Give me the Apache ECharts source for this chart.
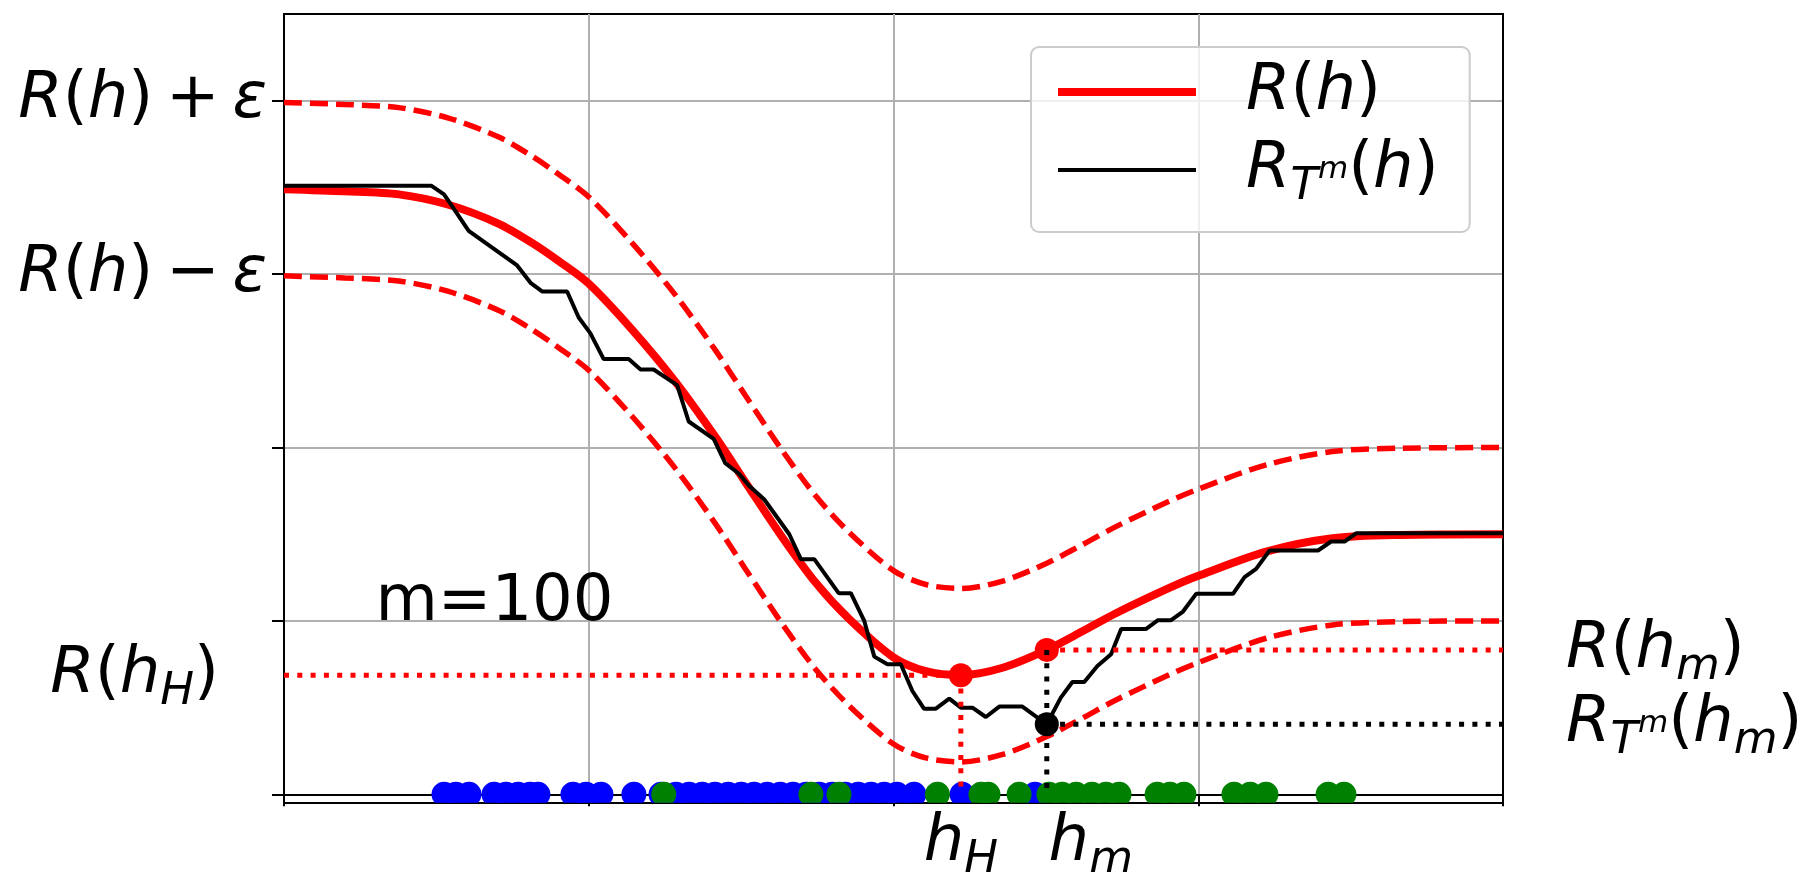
<!DOCTYPE html>
<html><head><meta charset="utf-8">
<script src="https://cdn.jsdelivr.net/npm/echarts@6/dist/echarts.min.js"></script>
<style>html,body{margin:0;padding:0;background:#fff}#c{width:1816px;height:872px}</style>
</head><body><div id="c"></div>
<script>
// ---------------- data ----------------
const xTickValues = [0, 1, 2, 3, 4];
const yTickValues = [0, 1, 2, 3, 4];
const yTickLabelValues = [3, 4];
const EPS = 0.5;
// true risk R(h)
const hGrid = [0, 0.2, 0.377, 0.54, 0.705, 0.814, 0.90, 1.0, 1.142, 1.284, 1.416, 1.514, 1.636, 1.745, 1.855, 2.0, 2.106, 2.221, 2.358, 2.503, 2.62, 2.73, 2.905, 3.0, 3.223, 3.44, 3.66, 4.0];
const riskTrue = [3.49, 3.478, 3.46, 3.40, 3.29, 3.18, 3.077, 2.945, 2.68, 2.38, 2.06, 1.80, 1.48, 1.22, 1.01, 0.79, 0.71, 0.687, 0.73, 0.833, 0.94, 1.044, 1.19, 1.26, 1.40, 1.477, 1.496, 1.5];
// empirical risk R_{T^m}(h)
const hEmp = [0, 0.483, 0.525, 0.552, 0.606, 0.765, 0.809, 0.847, 0.929, 0.967, 1.005, 1.049, 1.131, 1.17, 1.213, 1.29, 1.328, 1.41, 1.448, 1.492, 1.526, 1.576, 1.658, 1.696, 1.74, 1.82, 1.86, 1.904, 1.937, 1.98, 2.024, 2.062, 2.10, 2.139, 2.183, 2.221, 2.259, 2.303, 2.347, 2.423, 2.503, 2.549, 2.587, 2.626, 2.669, 2.714, 2.747, 2.829, 2.868, 2.911, 2.95, 2.993, 3.114, 3.152, 3.19, 3.234, 3.393, 3.436, 3.48, 3.519, 4.0];
const riskEmp = [3.51, 3.51, 3.46, 3.39, 3.25, 3.05, 2.95, 2.90, 2.90, 2.75, 2.66, 2.51, 2.51, 2.45, 2.45, 2.36, 2.15, 2.05, 1.91, 1.85, 1.78, 1.70, 1.50, 1.356, 1.356, 1.16, 1.16, 1.0, 0.794, 0.75, 0.75, 0.596, 0.494, 0.494, 0.552, 0.50, 0.50, 0.446, 0.506, 0.506, 0.404, 0.558, 0.648, 0.648, 0.74, 0.808, 0.954, 0.954, 1.004, 1.004, 1.054, 1.156, 1.156, 1.252, 1.30, 1.406, 1.406, 1.458, 1.458, 1.506, 1.506];
// sample points along the bottom
const blueH = [0.525, 0.564, 0.607, 0.689, 0.728, 0.768, 0.807, 0.833, 0.948, 0.991, 1.040, 1.148, 1.237, 1.286, 1.329, 1.372, 1.414, 1.457, 1.500, 1.542, 1.585, 1.628, 1.670, 1.713, 1.756, 1.798, 1.841, 1.884, 1.926, 1.969, 2.011, 2.067, 2.225, 2.464];
const greenH = [1.246, 1.729, 1.821, 2.144, 2.287, 2.310, 2.412, 2.510, 2.553, 2.599, 2.651, 2.697, 2.740, 2.865, 2.907, 2.953, 3.117, 3.170, 3.222, 3.426, 3.478];
const DOT_LEVEL = 0;
// key points
const H_H = 2.221, R_AT_HH = 0.687;
const H_M = 2.503, R_AT_HM = 0.833, RT_AT_HM = 0.404;
const SAMPLE_TEXT = 'm=100';
const SAMPLE_TEXT_AT = [0.3, 1.1];

// ---------------- styling helpers ----------------
const F = 'DejaVu Sans';
const rich = {
  i: {fontFamily: F, fontStyle: 'italic', fontSize: 64, lineHeight: 80, color: '#000'},
  n: {fontFamily: F, fontSize: 64, lineHeight: 80, color: '#000'},
  s: {fontFamily: F, fontStyle: 'italic', fontSize: 45, lineHeight: 45, verticalAlign: 'bottom', color: '#000'},
  p: {fontFamily: F, fontStyle: 'italic', fontSize: 31, lineHeight: 31, verticalAlign: 'middle', color: '#000'},
  sp: {width: 88, fontSize: 10}
};
const near = (a, b) => Math.abs(a - b) < 1e-6;
const YMIN = -0.05, YMAX = 4.5;
const dotted = (color) => ({color: color, width: 5, type: [5, 8.3], cap: 'butt'});
const dashed = {color: '#ff0000', width: 5.5, type: [18, 8]};
// dot glyph: a circle (r = 12.5) whose lower part is cut by the bottom spine
const CUT_DOT = 'path://M-9.165,8.5 A12.5,12.5 0 1 1 9.165,8.5 Z';
const dotStyle = {symbol: CUT_DOT, symbolSize: [25, 21], symbolOffset: [0, -2], symbolKeepAspect: false};

const chart = echarts.init(document.getElementById('c'), null, {renderer: 'canvas'});
const option = {
  animation: false,
  backgroundColor: '#fff',
  grid: {left: 284, right: 313, top: 14, bottom: 69, outerBoundsMode: 'none', containLabel: false,
    show: true, borderColor: '#000', borderWidth: 2, backgroundColor: 'transparent'},
  legend: {
    data: [
      {name: 'R(h)', lineStyle: {width: 8}, itemStyle: {opacity: 0}},
      {name: 'RT(h)', lineStyle: {width: 4}, itemStyle: {opacity: 0}}
    ],
    selectedMode: false,
    orient: 'vertical', left: 1031, top: 47,
    padding: [13, 31, 22, 23],
    itemWidth: 138, itemHeight: 2, itemGap: 14,
    backgroundColor: 'rgba(255,255,255,0.8)',
    borderColor: '#cccccc', borderWidth: 2, borderRadius: 8,
    formatter: function (name) {
      return name === 'R(h)' ? '{i|R}{n|(}{i|h}{n|)}' : '{i|R}{s|T}{p|m}{n|(}{i|h}{n|)}';
    },
    textStyle: {rich: rich, padding: [0, 0, 0, 45]}
  },
  xAxis: [{
    type: 'value', min: xTickValues[0], max: xTickValues[xTickValues.length - 1], interval: 1,
    axisLine: {show: true, lineStyle: {color: '#000', width: 2}},
    axisTick: {show: true, length: 12, lineStyle: {color: '#000', width: 2}},
    axisLabel: {
      customValues: [H_H, H_M], margin: 0,
      formatter: function (v) { return near(v, H_H) ? '{i|h}{s|H}' : '{sp| }{i|h}{s|m}'; },
      rich: rich
    },
    splitLine: {show: true, showMinLine: false, showMaxLine: false, lineStyle: {color: '#b0b0b0', width: 2}}
  }],
  yAxis: [{
    type: 'value', min: YMIN, max: YMAX, position: 'left',
    axisLine: {show: true, lineStyle: {color: '#000', width: 2}},
    axisTick: {show: true, customValues: yTickValues, length: 12, lineStyle: {color: '#000', width: 2}},
    axisLabel: {
      customValues: yTickLabelValues, margin: 17,
      formatter: function (v) { return v > 3.5 ? '{i|R}{n|(}{i|h}{n|)\u2009+\u2009}{i|ε}' : '{i|R}{n|(}{i|h}{n|)\u2009\u2212\u2009}{i|ε}'; },
      rich: rich
    },
    splitLine: {show: true, lineStyle: {color: '#b0b0b0', width: 2}}
  }, {
    type: 'value', min: YMIN, max: YMAX, position: 'left',
    axisLine: {show: false}, axisTick: {show: false}, splitLine: {show: false},
    axisLabel: {customValues: [R_AT_HH], margin: 65, formatter: function () { return '{i|R}{n|(}{i|h}{s|H}{n|)}'; }, rich: rich}
  }, {
    type: 'value', min: YMIN, max: YMAX, position: 'right',
    axisLine: {show: true, lineStyle: {color: '#000', width: 2}}, axisTick: {show: false}, splitLine: {show: false},
    axisLabel: {customValues: [R_AT_HM, RT_AT_HM], margin: 63,
      formatter: function (v) { return near(v, R_AT_HM) ? '{i|R}{n|(}{i|h}{s|m}{n|)}' : '{i|R}{s|T}{p|m}{n|(}{i|h}{s|m}{n|)}'; },
      rich: rich}
  }],
  series: [
    Object.assign({name: 'blue', type: 'scatter', data: blueH.map(h => [h, DOT_LEVEL]), itemStyle: {color: '#0000ff', opacity: 1}, clip: true, silent: true}, dotStyle),
    Object.assign({name: 'green', type: 'scatter', data: greenH.map(h => [h, DOT_LEVEL]), itemStyle: {color: '#008000', opacity: 1}, clip: true, silent: true}, dotStyle),
    {name: 'upper', type: 'line', data: hGrid.map((h, i) => [h, riskTrue[i] + EPS]), smooth: 0.3, symbol: 'none', lineStyle: dashed, silent: true},
    {name: 'lower', type: 'line', data: hGrid.map((h, i) => [h, riskTrue[i] - EPS]), smooth: 0.3, symbol: 'none', lineStyle: dashed, silent: true},
    {name: 'R(h)', type: 'line', data: hGrid.map((h, i) => [h, riskTrue[i]]), smooth: 0.3, symbol: 'none', itemStyle: {color: '#ff0000'}, lineStyle: {color: '#ff0000', width: 8}, silent: true,
      markPoint: {symbol: 'circle', symbolSize: 0, silent: true, data: [{coord: SAMPLE_TEXT_AT, label: {show: true, position: 'right', distance: 0, formatter: SAMPLE_TEXT, fontFamily: F, fontSize: 64, color: '#000'}}]}},
    {name: 'RT(h)', type: 'line', data: hEmp.map((h, i) => [h, riskEmp[i]]), symbol: 'none', itemStyle: {color: '#000'}, lineStyle: {color: '#000', width: 4}, silent: true},
    {name: 'redPts', type: 'scatter', data: [[H_H, R_AT_HH], [H_M, R_AT_HM]], symbolSize: 24, itemStyle: {color: '#ff0000', opacity: 1}, z: 3, silent: true},
    {name: 'blackPt', type: 'scatter', data: [[H_M, RT_AT_HM]], symbolSize: 24, itemStyle: {color: '#000', opacity: 1}, z: 3, silent: true},
    {name: 'dotA', type: 'line', data: [[0, R_AT_HH], [H_H, R_AT_HH]], symbol: 'none', lineStyle: dotted('#ff0000'), z: 4, silent: true},
    {name: 'dotB', type: 'line', data: [[H_H, R_AT_HH], [H_H, DOT_LEVEL]], symbol: 'none', lineStyle: dotted('#ff0000'), z: 4, silent: true},
    {name: 'dotC', type: 'line', data: [[H_M, R_AT_HM], [xTickValues[4], R_AT_HM]], symbol: 'none', lineStyle: dotted('#ff0000'), z: 4, silent: true},
    {name: 'dotD', type: 'line', data: [[H_M, R_AT_HM], [H_M, DOT_LEVEL]], symbol: 'none', lineStyle: dotted('#000'), z: 4, silent: true},
    {name: 'dotE', type: 'line', data: [[H_M, RT_AT_HM], [xTickValues[4], RT_AT_HM]], symbol: 'none', lineStyle: dotted('#000'), z: 4, silent: true}
  ]
};
chart.setOption(option);
</script></body></html>
